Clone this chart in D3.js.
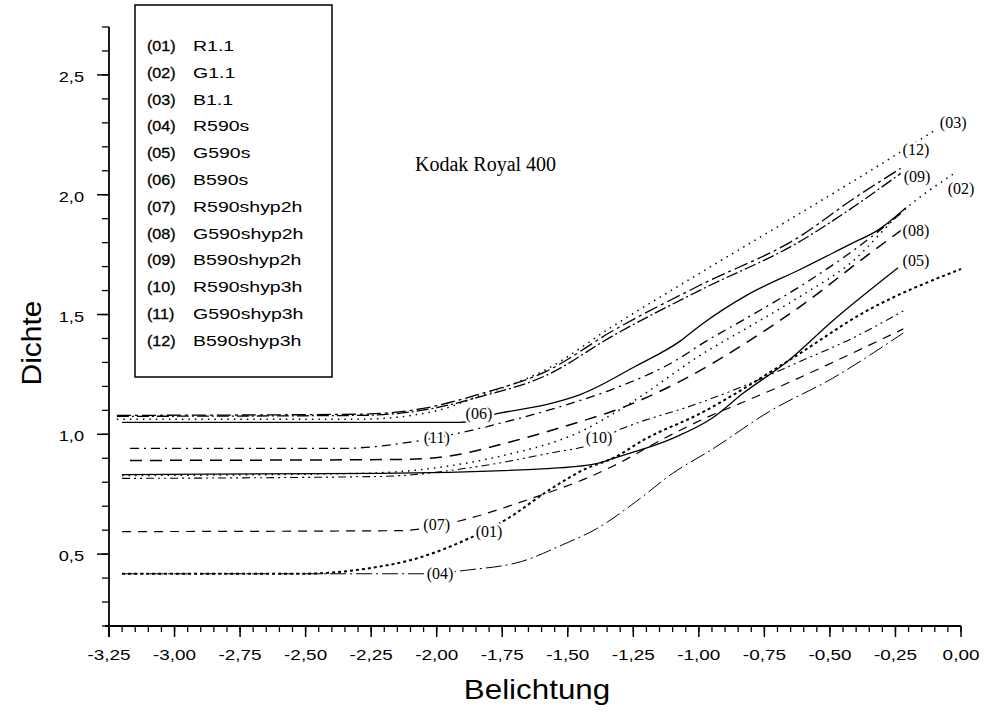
<!DOCTYPE html>
<html>
<head>
<meta charset="utf-8">
<script src="https://cdnjs.cloudflare.com/ajax/libs/d3/7.8.5/d3.min.js"></script>
<style>
  body { margin: 0; background: #fff; }
  .sans { font-family: "Liberation Sans", Arial, Helvetica, sans-serif; }
  .serif { font-family: "Liberation Serif", "Times New Roman", serif; }
</style>
</head>
<body>
<div class="chart"></div>
<script>
// series names and curve codes
var seriesCodes = ["(01)", "(02)", "(03)", "(04)", "(05)", "(06)", "(07)", "(08)", "(09)", "(10)", "(11)", "(12)"];
var seriesNames = ["R1.1", "G1.1", "B1.1", "R590s", "G590s", "B590s",
  "R590shyp2h", "G590shyp2h", "B590shyp2h", "R590shyp3h", "G590shyp3h", "B590shyp3h"];

// [Belichtung, Dichte]
var r11 = [[-3.20, 0.418], [-2.52, 0.418], [-2.27, 0.439], [-2.08, 0.481], [-1.88, 0.564], [-1.73, 0.648],
  [-1.58, 0.761], [-1.43, 0.857], [-1.33, 0.899], [-1.20, 0.983], [-1.00, 1.084], [-0.66, 1.306], [-0.36, 1.515], [0.00, 1.69]];
var g11 = [[-3.20, 0.828], [-2.29, 0.837], [-1.99, 0.862], [-1.76, 0.908], [-1.45, 1.012], [-1.25, 1.138],
  [-1.00, 1.326], [-0.77, 1.473], [-0.61, 1.578], [-0.42, 1.716], [-0.22, 1.934], [-0.02, 2.093]];
var b11 = [[-3.22, 1.063], [-2.29, 1.063], [-2.01, 1.096], [-1.84, 1.159], [-1.58, 1.272], [-1.33, 1.45],
  [-1.00, 1.67], [-0.61, 1.925], [-0.24, 2.172], [-0.10, 2.269]];
var r590s = [[-3.20, 0.418], [-2.06, 0.418], [-1.87, 0.435], [-1.68, 0.468], [-1.52, 0.539], [-1.39, 0.606],
  [-1.24, 0.719], [-1.10, 0.837], [-0.95, 0.937], [-0.73, 1.096], [-0.49, 1.234], [-0.22, 1.423]];
var g590s = [[-3.20, 0.832], [-2.22, 0.837], [-1.58, 0.857], [-1.39, 0.878], [-1.33, 0.899], [-1.10, 0.983],
  [-0.95, 1.067], [-0.83, 1.172], [-0.66, 1.306], [-0.49, 1.473], [-0.24, 1.695]];
var b590s = [[-3.20, 1.050], [-1.91, 1.050], [-1.76, 1.088], [-1.56, 1.130], [-1.45, 1.167], [-1.24, 1.285],
  [-1.07, 1.39], [-1.00, 1.45], [-0.81, 1.585], [-0.61, 1.69], [-0.42, 1.795], [-0.32, 1.850], [-0.21, 1.946]];
var r590h2 = [[-3.20, 0.594], [-2.14, 0.598], [-2.03, 0.610], [-1.88, 0.648], [-1.64, 0.732], [-1.43, 0.816],
  [-1.33, 0.866], [-1.12, 0.99], [-0.95, 1.08], [-0.84, 1.13], [-0.69, 1.20], [-0.49, 1.30], [-0.22, 1.440]];
var g590h2 = [[-3.17, 0.891], [-2.14, 0.895], [-1.96, 0.908], [-1.71, 0.971], [-1.45, 1.054], [-1.33, 1.096],
  [-1.07, 1.222], [-0.81, 1.389], [-0.61, 1.536], [-0.36, 1.745], [-0.22, 1.858]];
var b590h2 = [[-3.22, 1.075], [-2.29, 1.079], [-2.01, 1.109], [-1.84, 1.155], [-1.58, 1.247], [-1.33, 1.410],
  [-1.00, 1.599], [-0.61, 1.808], [-0.42, 1.942], [-0.23, 2.089]];
var r590h3 = [[-3.20, 0.816], [-2.22, 0.824], [-1.84, 0.866], [-1.53, 0.929], [-1.45, 0.945], [-1.29, 1.025],
  [-1.00, 1.130], [-0.83, 1.201], [-0.61, 1.306], [-0.42, 1.398], [-0.22, 1.515]];
var g590h3 = [[-3.17, 0.941], [-2.37, 0.941], [-2.08, 0.971], [-1.92, 1.004], [-1.73, 1.054], [-1.50, 1.125],
  [-1.33, 1.188], [-1.07, 1.32], [-1.00, 1.37], [-0.81, 1.49], [-0.61, 1.62], [-0.42, 1.76], [-0.22, 1.93]];
var b590h3 = [[-3.22, 1.079], [-2.29, 1.084], [-2.01, 1.117], [-1.84, 1.167], [-1.58, 1.264], [-1.33, 1.431],
  [-1.00, 1.620], [-0.61, 1.829], [-0.42, 1.976], [-0.23, 2.110]];

// where the curve codes sit on the plot
var labelAt = [[-1.80, 0.594], [0.0, 2.022], [-0.03, 2.298], [-1.987, 0.418], [-0.172, 1.724], [-1.839, 1.084],
  [-2.00, 0.623], [-0.172, 1.850], [-0.168, 2.072], [-1.381, 0.983], [-2.00, 0.983], [-0.172, 2.185]];

var xTicks = [-3.25, -3.00, -2.75, -2.50, -2.25, -2.00, -1.75, -1.50, -1.25, -1.00, -0.75, -0.50, -0.25, 0.00];
var yTicks = [0.5, 1.0, 1.5, 2.0, 2.5];

var allSeries = [r11, g11, b11, r590s, g590s, b590s, r590h2, g590h2, b590h2, r590h3, g590h3, b590h3];

// line styles for each curve
var dashes = ["3,3", "1.5,5", "1.5,5", "16,4,2,4", null, null, "9,7", "12,8", "12,3,2,3", "8,4,2,4,2,4", "9,5,2,5", "14,4,3,4"];
var widths = [2, 1.5, 1.5, 1, 1.3, 1.3, 1.2, 1.5, 1.3, 1.1, 1.3, 1.3];

var svgWidth = 986;
var svgHeight = 716;

var svg = d3.select(".chart")
  .append("svg")
  .attr("width", svgWidth)
  .attr("height", svgHeight);

var x = d3.scaleLinear().domain([-3.25, 0]).range([109, 961]);
var y = d3.scaleLinear().domain([0.2, 2.7]).range([626, 27]);

var fmtX = function (v) { return d3.format(".2f")(v).replace(".", ",").replace("−", "-"); };
var fmtY = function (v) { return d3.format(".1f")(v).replace(".", ","); };

// axis lines (y runs a bit below the x axis, x a bit left of the y axis)
svg.append("line")
  .attr("x1", x(-3.25)).attr("x2", x(-3.25))
  .attr("y1", y(2.7)).attr("y2", y(0.2) + 11)
  .attr("stroke", "#000").attr("stroke-width", 1.8);
svg.append("line")
  .attr("x1", x(-3.25) - 4).attr("x2", x(0))
  .attr("y1", y(0.2)).attr("y2", y(0.2))
  .attr("stroke", "#000").attr("stroke-width", 1.8);

// minor + major ticks
var xMinor = d3.range(-3.25, 0.001, 0.05);
var yMinor = d3.range(0.2, 2.701, 0.1);

svg.append("g").selectAll("line")
  .data(xMinor)
  .enter()
  .append("line")
  .attr("x1", d => x(d)).attr("x2", d => x(d))
  .attr("y1", y(0.2)).attr("y2", y(0.2) + 6)
  .attr("stroke", "#000").attr("stroke-width", 1.3);

svg.append("g").selectAll("line")
  .data(xTicks)
  .enter()
  .append("line")
  .attr("x1", d => x(d)).attr("x2", d => x(d))
  .attr("y1", y(0.2)).attr("y2", y(0.2) + 11)
  .attr("stroke", "#000").attr("stroke-width", 1.5);

svg.append("g").selectAll("line")
  .data(yMinor)
  .enter()
  .append("line")
  .attr("x1", x(-3.25) - 7).attr("x2", x(-3.25))
  .attr("y1", d => y(d)).attr("y2", d => y(d))
  .attr("stroke", "#000").attr("stroke-width", 1.3);

svg.append("g").selectAll("line")
  .data(yTicks)
  .enter()
  .append("line")
  .attr("x1", x(-3.25) - 12).attr("x2", x(-3.25))
  .attr("y1", d => y(d)).attr("y2", d => y(d))
  .attr("stroke", "#000").attr("stroke-width", 1.5);

// tick labels, stretched like the scanned font
svg.append("g").selectAll("text")
  .data(xTicks)
  .enter()
  .append("text")
  .attr("class", "sans")
  .attr("transform", d => `translate(${x(d)}, 660) scale(1.35, 1)`)
  .attr("text-anchor", "middle")
  .attr("font-size", "14px")
  .text(d => fmtX(d));

svg.append("g").selectAll("text")
  .data(yTicks)
  .enter()
  .append("text")
  .attr("class", "sans")
  .attr("transform", d => `translate(84, ${y(d) + 7}) scale(1.3, 1)`)
  .attr("text-anchor", "end")
  .attr("font-size", "14px")
  .text(d => fmtY(d));

// axis titles
svg.append("text")
  .attr("class", "sans")
  .attr("transform", "translate(537, 699) scale(1.12, 1)")
  .attr("text-anchor", "middle")
  .attr("font-size", "28px")
  .text("Belichtung");

svg.append("text")
  .attr("class", "sans")
  .attr("transform", "translate(41, 343) rotate(-90) scale(1.07, 1)")
  .attr("text-anchor", "middle")
  .attr("font-size", "28px")
  .text("Dichte");

svg.append("text")
  .attr("class", "serif")
  .attr("x", 415)
  .attr("y", 171)
  .attr("font-size", "20px")
  .text("Kodak Royal 400");

// curves
var line = d3.line()
  .x(d => x(d[0]))
  .y(d => y(d[1]))
  .curve(d3.curveMonotoneX);

svg.append("g").selectAll("path")
  .data(allSeries)
  .enter()
  .append("path")
  .attr("d", line)
  .attr("fill", "none")
  .attr("stroke", "#000")
  .attr("stroke-width", (d, i) => widths[i])
  .attr("stroke-dasharray", (d, i) => dashes[i]);

// curve codes, white halo breaks the line behind them
svg.append("g").selectAll("text")
  .data(labelAt)
  .enter()
  .append("text")
  .attr("class", "serif")
  .attr("x", d => x(d[0]))
  .attr("y", d => y(d[1]) + 5)
  .attr("text-anchor", "middle")
  .attr("font-size", "16px")
  .attr("stroke", "#fff")
  .attr("stroke-width", 5)
  .attr("paint-order", "stroke")
  .attr("fill", "#000")
  .text((d, i) => seriesCodes[i]);

// legend box
var legend = svg.append("g");
legend.append("rect")
  .attr("x", 135).attr("y", 5)
  .attr("width", 197).attr("height", 372)
  .attr("fill", "#fff")
  .attr("stroke", "#000")
  .attr("stroke-width", 1.5);

var rows = legend.selectAll("g.row")
  .data(seriesNames)
  .enter()
  .append("g")
  .attr("class", "row")
  .attr("transform", (d, i) => `translate(0, ${51 + i * 26.8})`);

rows.append("text")
  .attr("class", "sans")
  .attr("transform", "translate(147, 0) scale(1.15, 1)")
  .attr("font-size", "14px")
  .attr("stroke", "#000")
  .attr("stroke-width", 0.3)
  .text((d, i) => seriesCodes[i]);

rows.append("text")
  .attr("class", "sans")
  .attr("transform", "translate(193, 0) scale(1.3, 1)")
  .attr("font-size", "15px")
  .text(d => d);
</script>
</body>
</html>
